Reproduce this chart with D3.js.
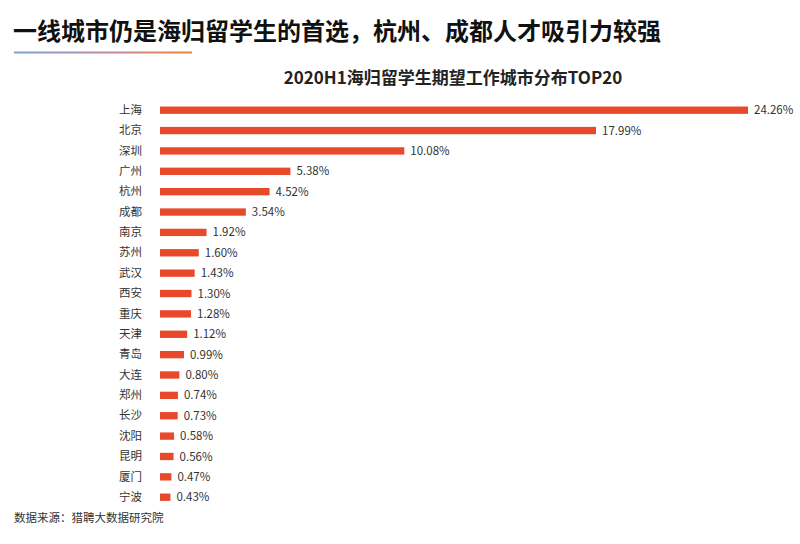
<!DOCTYPE html>
<html>
  <head>
    <meta charset="utf-8">
    <title>海归留学生期望工作城市</title>
    <style>
      body { margin: 0; background: #fff; }
      text { font-family: "Noto Sans CJK SC", "Noto Sans", sans-serif; }
    </style>
  </head>
  <body>
  <script src="https://d3js.org/d3.v7.min.js"></script>
  <script>
    var cities = ['上海', '北京', '深圳', '广州', '杭州', '成都', '南京', '苏州', '武汉', '西安',
                  '重庆', '天津', '青岛', '大连', '郑州', '长沙', '沈阳', '昆明', '厦门', '宁波'];
    var shares = [24.26, 17.99, 10.08, 5.38, 4.52, 3.54, 1.92, 1.60, 1.43, 1.30,
                  1.28, 1.12, 0.99, 0.80, 0.74, 0.73, 0.58, 0.56, 0.47, 0.43];

    var w = 800;
    var h = 544;

    var svg = d3.select('body')
                .append('svg')
                .attr('width', w)
                .attr('height', h);

    // title + gradient underline
    svg.append('text')
       .attr('x', 13)
       .attr('y', 40)
       .attr('font-size', 24)
       .attr('font-weight', 'bold')
       .attr('fill', '#111')
       .text('一线城市仍是海归留学生的首选，杭州、成都人才吸引力较强');

    var grad = svg.append('defs').append('linearGradient')
                  .attr('id', 'lineGrad');
    grad.append('stop').attr('offset', '0%').attr('stop-color', '#7aa3cf');
    grad.append('stop').attr('offset', '45%').attr('stop-color', '#b48bb0');
    grad.append('stop').attr('offset', '100%').attr('stop-color', '#f0803a');

    svg.append('rect')
       .attr('x', 14)
       .attr('y', 51.5)
       .attr('width', 178)
       .attr('height', 2)
       .attr('fill', 'url(#lineGrad)');

    svg.append('text')
       .attr('x', 453)
       .attr('y', 84)
       .attr('text-anchor', 'middle')
       .attr('font-size', 17)
       .attr('font-weight', 'bold')
       .attr('fill', '#222')
       .text('2020H1海归留学生期望工作城市分布TOP20');

    var x = d3.scaleLinear()
              .domain([0, 24.26])
              .range([160, 748]);

    var y = d3.scaleBand()
              .domain(cities)
              .range([100, 507.4])
              .paddingInner(0.64)
              .paddingOuter(0.32);

    var bars = svg.append('g');

    bars.selectAll('rect')
        .data(shares)
        .enter()
        .append('rect')
        .attr('x', x(0))
        .attr('y', (d, i) => y(cities[i]))
        .attr('width', d => x(d) - x(0))
        .attr('height', y.bandwidth())
        .attr('fill', '#e8492b');

    bars.selectAll('text.val')
        .data(shares)
        .enter()
        .append('text')
        .attr('class', 'val')
        .attr('x', d => x(d) + 6)
        .attr('y', (d, i) => y(cities[i]) + y.bandwidth() / 2)
        .attr('dy', '0.35em')
        .attr('font-size', 11.5)
        .attr('fill', '#333')
        .text(d => d.toFixed(2) + '%');

    var yAxis = svg.append('g')
                   .attr('transform', 'translate(142,0)')
                   .call(d3.axisLeft(y).tickSize(0).tickPadding(0));
    yAxis.select('.domain').remove();
    yAxis.selectAll('text')
         .attr('font-size', 11.5)
         .attr('fill', '#333')
         .style('font-family', '"Noto Sans CJK SC", sans-serif');

    svg.append('text')
       .attr('x', 14)
       .attr('y', 522)
       .attr('font-size', 11.5)
       .attr('fill', '#333')
       .text('数据来源：猎聘大数据研究院');
  </script>
  </body>
</html>
